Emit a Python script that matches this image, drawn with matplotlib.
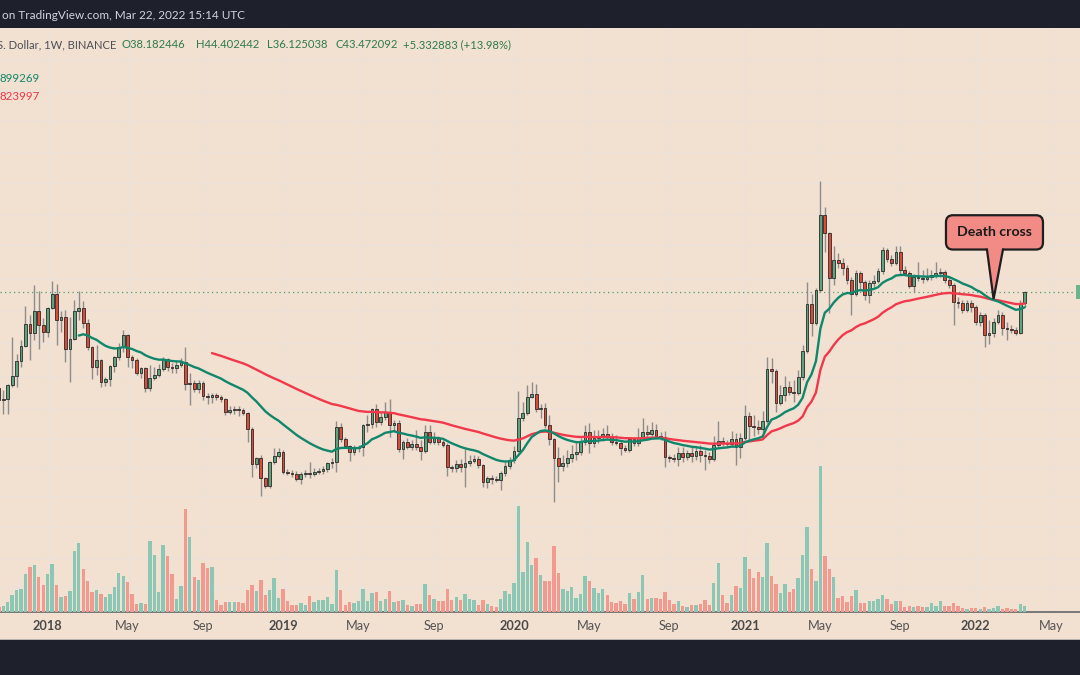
import numpy as np
import pandas as pd
import matplotlib
matplotlib.use("Agg")
import matplotlib.pyplot as plt
import matplotlib.dates as mdates
import matplotlib.transforms as mtransforms
from matplotlib.patches import Rectangle, FancyBboxPatch, Polygon

plt.rcParams['font.family'] = ['Lato', 'DejaVu Sans']

# ---------------- data (weekly ETC/USD candles, Binance) ----------------
first_week = "2017-10-09"

opens = [
    12.24, 12.88, 11.07, 11.21, 13.38, 15.00, 18.13, 21.93, 28.98, 25.86,
    34.17, 28.61, 26.19, 35.49, 42.38, 30.49, 31.67, 21.11, 23.96, 34.17,
    35.49, 29.35, 21.65, 16.81, 18.37, 13.90, 14.44, 17.02, 19.08, 21.65,
    25.21, 19.08, 18.37, 15.58, 16.59, 12.88, 14.62, 15.19, 16.39, 18.60,
    16.81, 16.59, 17.24, 17.90, 13.55, 13.72, 12.72, 13.72, 11.64, 11.49,
    11.79, 11.49, 11.21, 9.50, 9.74, 9.87, 9.74, 9.38, 7.66, 4.92,
    5.31, 4.12, 3.72, 5.04, 5.44, 5.72, 4.44, 4.39, 4.33, 4.07,
    4.33, 4.39, 4.33, 4.44, 4.50, 4.62, 4.98, 5.04, 7.86, 6.75,
    6.18, 5.72, 6.03, 6.10, 8.06, 8.16, 9.87, 8.37, 8.92, 9.50,
    8.06, 8.27, 5.95, 6.50, 6.10, 6.34, 6.10, 5.80, 7.37, 6.50,
    6.84, 6.50, 6.26, 4.73, 4.67, 4.92, 4.73, 4.98, 5.11, 5.24,
    4.86, 3.91, 4.12, 4.07, 4.01, 4.39, 4.79, 5.17, 5.80, 8.81,
    9.38, 11.49, 11.94, 9.87, 9.99, 8.06, 6.75, 5.31, 4.79, 4.98,
    5.31, 5.58, 5.72, 6.50, 7.37, 6.42, 6.84, 6.92, 7.19, 7.01,
    6.50, 6.42, 6.03, 5.88, 6.75, 6.42, 6.84, 7.37, 7.19, 7.57,
    7.01, 6.92, 5.37, 5.31, 5.24, 5.65, 5.37, 5.65, 5.44, 5.80,
    5.51, 5.44, 5.24, 6.26, 6.58, 6.42, 6.34, 6.75, 6.10, 6.84,
    9.03, 7.96, 7.86, 7.66, 8.48, 16.39, 15.98, 10.65, 11.79, 13.05,
    12.24, 12.09, 14.81, 20.58, 37.34, 29.35, 44.6, 115.4, 91.9, 51.9,
    65.2, 62.8, 59.0, 50.6, 42.38, 55.3, 49.34, 41.84, 48.7, 50.0,
    56.8, 74.0, 66.1, 62.8, 72.2, 57.5, 55.3, 46.9, 52.6, 51.9,
    51.3, 52.6, 53.9, 55.3, 56.0, 50.6, 47.5, 38.30, 37.81, 34.61,
    37.81, 35.95, 29.72, 32.48, 25.21, 25.86, 29.72, 32.48, 27.54, 27.20,
    26.85, 25.86, 38.182446,
]

highs = [
    13.55, 13.55, 12.56, 13.55, 24.58, 19.81, 23.66, 36.40, 32.48, 47.5,
    44.0, 31.27, 35.95, 50.0, 48.1, 34.17, 34.61, 31.67, 39.28, 44.0,
    38.78, 30.88, 21.93, 22.21, 18.60, 14.81, 17.24, 19.4, 22.78, 26.85,
    25.53, 19.57, 18.84, 16.81, 16.81, 17.24, 16.81, 17.46, 19.08, 18.84,
    17.68, 18.37, 18.84, 21.65, 15.58, 14.25, 14.25, 14.07, 12.09, 12.09,
    12.09, 11.79, 11.35, 10.25, 10.25, 10.25, 9.99, 9.50, 7.86, 5.37,
    5.51, 4.17, 5.11, 6.03, 6.03, 5.88, 4.62, 4.56, 4.50, 4.44,
    4.56, 5.04, 4.67, 4.67, 4.79, 5.04, 5.31, 8.48, 8.27, 6.92,
    6.26, 6.26, 6.26, 8.16, 9.15, 9.99, 10.51, 9.50, 10.78, 11.21,
    8.59, 8.59, 6.67, 6.84, 6.67, 7.57, 6.67, 8.06, 8.06, 7.37,
    7.01, 6.67, 6.42, 4.86, 5.17, 5.24, 5.95, 5.51, 5.51, 5.44,
    4.95, 4.22, 4.28, 4.22, 4.50, 5.04, 5.37, 6.18, 12.40, 10.78,
    13.38, 13.90, 13.55, 10.51, 10.65, 9.15, 6.84, 6.10, 5.51, 5.88,
    6.26, 6.50, 6.84, 8.06, 8.27, 7.57, 7.57, 7.76, 8.06, 7.28,
    7.10, 6.67, 6.26, 6.92, 6.92, 7.76, 8.81, 8.06, 8.37, 8.16,
    7.37, 7.47, 5.51, 5.58, 6.10, 6.10, 5.88, 6.10, 6.18, 6.26,
    5.88, 5.72, 7.01, 8.48, 6.92, 6.67, 7.47, 7.28, 7.28, 10.38,
    9.50, 9.15, 8.59, 9.62, 19.08, 18.84, 16.39, 13.38, 15.00, 14.07,
    14.25, 16.18, 22.21, 49.34, 42.38, 45.7, 177.4, 127.7, 93.0, 77.9,
    71.3, 66.9, 61.2, 52.6, 57.5, 56.8, 50.6, 50.6, 53.9, 59.0,
    76.9, 75.9, 69.5, 77.9, 77.9, 60.5, 56.8, 54.6, 63.6, 57.5,
    59.0, 57.5, 63.6, 59.0, 57.5, 52.6, 48.7, 40.80, 39.28, 39.28,
    39.28, 36.87, 33.74, 33.32, 30.49, 31.27, 34.61, 33.74, 29.72, 28.61,
    27.90, 39.28, 44.402442,
]

lows = [
    11.64, 10.51, 9.26, 9.26, 13.05, 13.05, 16.81, 21.65, 18.37, 23.66,
    21.11, 23.07, 24.58, 35.05, 22.21, 26.19, 17.90, 13.90, 23.66, 30.49,
    27.54, 20.85, 14.44, 15.19, 13.05, 13.21, 13.21, 15.77, 18.37, 20.32,
    16.81, 16.59, 15.19, 14.62, 12.24, 12.40, 14.25, 14.81, 15.98, 15.98,
    15.58, 15.58, 16.81, 12.56, 10.38, 12.24, 12.09, 11.07, 10.51, 10.65,
    11.07, 10.78, 9.15, 9.26, 9.26, 9.03, 9.15, 6.50, 4.17, 4.67,
    3.28, 3.63, 3.63, 4.92, 5.31, 4.33, 4.28, 4.17, 3.96, 3.82,
    4.17, 4.12, 4.22, 4.33, 4.33, 4.44, 4.67, 4.44, 6.50, 6.03,
    5.11, 5.51, 5.72, 5.44, 7.37, 7.76, 7.86, 8.06, 8.59, 6.92,
    7.37, 5.72, 5.24, 5.95, 5.88, 5.88, 5.17, 5.65, 6.34, 6.34,
    6.26, 6.10, 4.22, 4.44, 4.44, 4.44, 3.67, 4.79, 4.98, 4.67,
    3.67, 3.63, 3.82, 3.91, 3.54, 4.22, 4.62, 4.98, 5.72, 8.48,
    9.15, 11.35, 9.50, 8.81, 7.76, 6.26, 3.04, 3.91, 4.50, 4.73,
    5.04, 5.17, 5.51, 6.26, 5.65, 6.10, 6.42, 6.58, 6.75, 6.26,
    6.26, 5.51, 5.72, 5.72, 6.18, 6.18, 6.67, 6.92, 7.01, 6.84,
    6.67, 4.73, 5.04, 5.04, 4.79, 5.04, 5.17, 5.04, 5.17, 5.04,
    4.56, 4.98, 5.11, 6.10, 6.18, 6.10, 6.10, 4.86, 5.31, 6.67,
    6.67, 7.01, 7.19, 7.28, 8.27, 13.72, 9.50, 10.38, 10.93, 11.79,
    10.78, 11.79, 14.25, 20.07, 24.89, 28.61, 43.47, 72.2, 33.32, 47.5,
    59.0, 53.9, 48.1, 32.48, 41.32, 44.6, 39.28, 37.81, 46.3, 48.7,
    54.6, 63.6, 60.5, 61.2, 53.9, 53.3, 45.7, 43.47, 50.0, 48.7,
    50.0, 50.6, 51.9, 52.6, 48.7, 45.7, 28.61, 35.49, 33.32, 33.74,
    33.74, 28.61, 28.25, 21.65, 22.49, 24.58, 28.98, 25.21, 23.66, 25.86,
    25.21, 25.53, 36.125038,
]

closes = [
    12.88, 11.07, 11.21, 13.38, 15.00, 18.13, 21.93, 28.98, 25.86, 34.17,
    28.61, 26.19, 35.49, 42.38, 30.49, 31.67, 21.11, 23.96, 34.17, 35.49,
    29.35, 21.65, 16.81, 18.37, 13.90, 14.44, 17.02, 19.08, 21.65, 25.21,
    19.08, 18.37, 15.58, 16.59, 12.88, 14.62, 15.19, 16.39, 18.60, 16.81,
    16.59, 17.24, 17.90, 13.55, 13.72, 12.72, 13.72, 11.64, 11.49, 11.79,
    11.49, 11.21, 9.50, 9.74, 9.87, 9.74, 9.38, 7.66, 4.92, 5.31,
    4.12, 3.72, 5.04, 5.44, 5.72, 4.44, 4.39, 4.33, 4.07, 4.33,
    4.39, 4.33, 4.44, 4.50, 4.62, 4.98, 5.04, 7.86, 6.75, 6.18,
    5.72, 6.03, 6.10, 8.06, 8.16, 9.87, 8.37, 8.92, 9.50, 8.06,
    8.27, 5.95, 6.50, 6.10, 6.34, 6.10, 5.80, 7.37, 6.50, 6.84,
    6.50, 6.26, 4.73, 4.67, 4.92, 4.73, 4.98, 5.11, 5.24, 4.86,
    3.91, 4.12, 4.07, 4.01, 4.39, 4.79, 5.17, 5.80, 8.81, 9.38,
    11.49, 11.94, 9.87, 9.99, 8.06, 6.75, 5.31, 4.79, 4.98, 5.31,
    5.58, 5.72, 6.50, 7.37, 6.42, 6.84, 6.92, 7.19, 7.01, 6.50,
    6.42, 6.03, 5.88, 6.75, 6.42, 6.84, 7.37, 7.19, 7.57, 7.01,
    6.92, 5.37, 5.31, 5.24, 5.65, 5.37, 5.65, 5.44, 5.80, 5.51,
    5.44, 5.24, 6.26, 6.58, 6.42, 6.34, 6.75, 6.10, 6.84, 9.03,
    7.96, 7.86, 7.66, 8.48, 16.39, 15.98, 10.65, 11.79, 13.05, 12.24,
    12.09, 14.81, 20.58, 37.34, 29.35, 44.6, 115.4, 91.9, 51.9, 65.2,
    62.8, 59.0, 50.6, 42.38, 55.3, 49.34, 41.84, 48.7, 50.0, 56.8,
    74.0, 66.1, 62.8, 72.2, 57.5, 55.3, 46.9, 52.6, 51.9, 51.3,
    52.6, 53.9, 55.3, 56.0, 50.6, 47.5, 38.30, 37.81, 34.61, 37.81,
    35.95, 29.72, 32.48, 25.21, 25.86, 29.72, 32.48, 27.54, 27.20, 26.85,
    25.86, 38.182446, 43.472092,
]

volumes = [
    5, 5, 6, 10, 17, 22, 23, 38, 45, 47,
    35, 27, 38, 48, 27, 15, 16, 21, 61, 69,
    43, 31, 20, 22, 18, 15, 18, 25, 39, 36,
    30, 18, 8, 9, 8, 71, 57, 20, 67, 56,
    38, 13, 26, 103, 75, 35, 32, 49, 44, 45,
    12, 7, 10, 10, 10, 10, 9, 22, 27, 21,
    32, 17, 22, 34, 14, 23, 11, 7, 7, 9,
    7, 16, 10, 12, 12, 15, 8, 42, 22, 7,
    10, 9, 11, 23, 11, 19, 20, 11, 13, 21,
    10, 11, 12, 7, 6, 8, 8, 28, 17, 13,
    11, 11, 23, 12, 15, 12, 18, 13, 12, 7,
    12, 8, 6, 5, 13, 21, 18, 29, 106, 40,
    70, 47, 54, 37, 31, 31, 66, 39, 23, 21,
    25, 14, 18, 36, 31, 24, 19, 23, 17, 10,
    9, 11, 8, 19, 13, 20, 37, 13, 14, 14,
    13, 20, 12, 8, 11, 6, 5, 7, 7, 8,
    12, 7, 29, 49, 17, 9, 17, 26, 24, 55,
    43, 34, 40, 35, 69, 36, 28, 19, 28, 20,
    23, 34, 57, 85, 43, 31, 146, 56, 43, 35,
    14, 16, 10, 16, 22, 9, 9, 11, 11, 13,
    17, 13, 8, 11, 11, 5, 6, 5, 6, 5,
    5, 9, 6, 11, 6, 6, 9, 6, 4, 3,
    4, 4, 3, 5, 3, 4, 6, 3, 4, 3,
    3, 8, 6,
]

ema_fast_len = 20
ema_slow_len = 50

tick_dates = ["2018-01-01", "2018-05-07", "2018-09-03", "2019-01-07", "2019-05-06",
              "2019-09-02", "2020-01-06", "2020-05-04", "2020-09-07", "2021-01-04",
              "2021-05-03", "2021-09-06", "2022-01-03", "2022-05-02"]
tick_labels = ["2018", "May", "Sep", "2019", "May", "Sep", "2020", "May", "Sep",
               "2021", "May", "Sep", "2022", "May"]
grid_prices = [838.5, 555.3, 379.7, 256.3, 173.7, 117.9, 78.9, 51.7, 34.91, 22.86,
               14.86, 9.83, 6.80, 4.71, 3.276, 2.225, 1.503, 1.030]
cross_week = "2022-01-31"
cross_price = 39.9

# ---------------- styling ----------------
DARK = "#1e212b"
BEIGE = "#f2e0d0"
GRID = "#ebe2db"
UP = "#5fa37c"
DOWN = "#dc4a3b"
VOL_UP = "#8cc6b4"
VOL_DOWN = "#f29a90"
MA_FAST = "#10876d"
MA_SLOW = "#f2384b"

W, H = 1080, 675
top_px, bot_px = 27.5, 612
rect = [0, 1 - bot_px / H, 1, (bot_px - top_px) / H]


def tv_ema(vals, n):
    vals = np.asarray(vals, dtype=float)
    out = np.full(len(vals), np.nan)
    alpha = 2.0 / (n + 1)
    out[n - 1] = vals[:n].mean()
    for i in range(n, len(vals)):
        out[i] = alpha * vals[i] + (1 - alpha) * out[i - 1]
    return out


dates = pd.date_range(first_week, periods=len(closes), freq="7D")
x = mdates.date2num(dates.to_pydatetime())
o = np.array(opens); h = np.array(highs); l = np.array(lows); c = np.array(closes)
up = c >= o

ref = mdates.date2num(pd.Timestamp("2018-01-01").to_pydatetime())
px_per_day = 4.4407 / 7.0
xlim = (ref - 47.7 / px_per_day, ref + (W - 47.7) / px_per_day)
ylim = (0.7530, 1249.9)

fig = plt.figure(figsize=(W / 100, H / 100), dpi=100)
fig.patch.set_facecolor(DARK)

# date label strip
fig.patches.append(Rectangle((0, 1 - 639 / H), 1, (639 - bot_px) / H, transform=fig.transFigure,
                             facecolor=BEIGE, edgecolor="none", zorder=-5))
fig.patches.append(Rectangle((0, 1 - 640 / H), 1, 1.2 / H, transform=fig.transFigure,
                             facecolor="#b9b3ae", edgecolor="none", zorder=-4))

# grid axes (background)
ax_g = fig.add_axes(rect)
ax_g.set_facecolor(BEIGE)
ax_g.set_yscale("log")
ax_g.set_xlim(*xlim)
ax_g.set_ylim(*ylim)
for p in grid_prices:
    ax_g.axhline(p, color=GRID, lw=1.0, zorder=0)
tnums = mdates.date2num(pd.to_datetime(tick_dates).to_pydatetime())
for t in tnums:
    ax_g.axvline(t, color=GRID, lw=1.0, zorder=0)
ax_g.set_yticks([])
ax_g.yaxis.set_minor_locator(matplotlib.ticker.NullLocator())
ax_g.set_xticks(tnums)
ax_g.set_xticklabels(tick_labels)
ax_g.tick_params(axis="x", length=0, pad=6, labelsize=9.2, colors="#555555")
for lab in ax_g.get_xticklabels():
    if lab.get_text().isdigit():
        lab.set_fontweight("bold")
        lab.set_color("#4a4a4a")
for s in ["top", "left", "right"]:
    ax_g.spines[s].set_visible(False)
ax_g.spines["bottom"].set_color("#787878")
ax_g.spines["bottom"].set_linewidth(1.4)

# volume axes
ax_v = fig.add_axes(rect)
ax_v.patch.set_visible(False)
ax_v.set_xlim(*xlim)
ax_v.set_ylim(0, bot_px - top_px)
ax_v.bar(x, volumes, width=5.3, color=np.where(up, VOL_UP, VOL_DOWN), linewidth=0)
ax_v.axis("off")

# price axes
ax = fig.add_axes(rect)
ax.patch.set_visible(False)
ax.set_yscale("log")
ax.set_xlim(*xlim)
ax.set_ylim(*ylim)
ax.axis("off")

wick_lo = np.minimum(l, np.minimum(o, c))
wick_hi = np.maximum(h, np.maximum(o, c))
ax.vlines(x, wick_lo, wick_hi, color="#8d8d8d", lw=1.0, zorder=2)
body_lo = np.minimum(o, c)
body_hi = np.maximum(o, c)
ax.bar(x, body_hi - body_lo, bottom=body_lo, width=4.3,
       color=np.where(up, UP, DOWN), edgecolor="#2a2a2a", linewidth=0.6, zorder=3)

ema_fast = tv_ema(closes, ema_fast_len)
ema_slow = tv_ema(closes, ema_slow_len)
ax.plot(x, ema_slow, color=MA_SLOW, lw=1.7, zorder=4, solid_capstyle="round")
ax.plot(x, ema_fast, color=MA_FAST, lw=1.7, zorder=5, solid_capstyle="round")

ax.axhline(closes[-1], color="#4f9e78", lw=0.9, ls=(0, (1, 2.6)), zorder=1)
blend = mtransforms.blended_transform_factory(ax.transAxes, ax.transData)
ax.add_patch(Rectangle((1076 / W, 39.78), 0.02, 47.5 - 39.78, transform=blend,
                       facecolor="#6fb28e", edgecolor="none", zorder=6, clip_on=False))

# ---------------- header / legend texts ----------------
def ftxt(px, py, s, **kw):
    fig.text(px / W, 1 - py / H, s, va="center", ha="left", **kw)

ftxt(2, 15.5, "on TradingView.com, Mar 22, 2022 15:14 UTC", color="#d1d4dc", fontsize=8.5)
ftxt(-3, 44.8, "S. Dollar, 1W, BINANCE", color="#4b4f58", fontsize=8.1)
GREEN_TXT = "#2f7a4e"
ftxt(122, 44.8, "O38.182446", color=GREEN_TXT, fontsize=8.1)
ftxt(196, 44.8, "H44.402442", color=GREEN_TXT, fontsize=8.1)
ftxt(267, 44.8, "L36.125038", color=GREEN_TXT, fontsize=8.1)
ftxt(335, 44.8, "C43.472092", color=GREEN_TXT, fontsize=8.1)
ftxt(403, 44.8, "+5.332883 (+13.98%)", color=GREEN_TXT, fontsize=8.1)
ftxt(0, 78.5, "899269", color="#12876b", fontsize=8.3)
ftxt(0, 97, "823997", color="#f2364a", fontsize=8.3)

# ---------------- "Death cross" callout ----------------
ov = fig.add_axes([0, 0, 1, 1])
ov.set_xlim(0, W)
ov.set_ylim(H, 0)
ov.axis("off")
ov.patch.set_visible(False)

cx = mdates.date2num(pd.Timestamp(cross_week).to_pydatetime())
dx, dy = ax.transData.transform((cx, cross_price))
tip_x, tip_y = dx, H - dy
PINK = "#f28b85"
EDGE = "#1e1e1e"
bx0, bw = tip_x - 47.6, 97.0
by1 = tip_y - 49.5
by0 = by1 - 34.3
ov.add_patch(FancyBboxPatch((bx0, by0), bw, by1 - by0,
                            boxstyle="round,pad=0,rounding_size=7",
                            facecolor=PINK, edgecolor=EDGE, lw=1.6, zorder=10))
tri_l, tri_r = tip_x - 6.6, tip_x + 9.4
ov.add_patch(Polygon([(tri_l, by1 - 2), (tri_r, by1 - 2), (tip_x, tip_y)],
                     closed=True, facecolor=PINK, edgecolor="none", zorder=11))
ov.plot([tri_l, tip_x, tri_r], [by1, tip_y, by1], color=EDGE, lw=1.6, zorder=12,
        solid_joinstyle="miter")
ov.text(tip_x + 0.5, (by0 + by1) / 2, "Death cross", ha="center", va="center",
        fontsize=10.2, fontweight="bold", color="#1a1a1a", zorder=13)

fig.savefig("out.png", dpi=100, facecolor=fig.get_facecolor())
